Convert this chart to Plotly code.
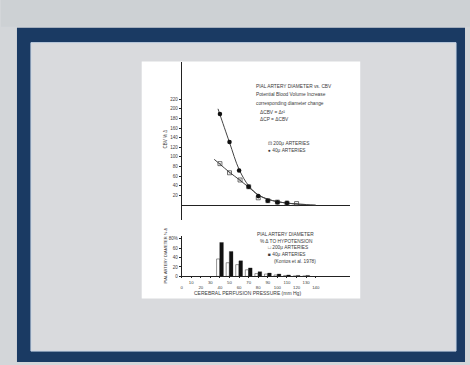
import plotly.graph_objects as go

W, H = 470, 365
def fx(px): return px / W
def fy(py): return 1 - py / H

# ---- data ----
pressure_odd_ticks = [10, 30, 50, 70, 90, 110, 130]
pressure_even_ticks = [0, 20, 40, 60, 80, 100, 120, 140]
cbv_ticks = [20, 40, 60, 80, 100, 120, 140, 160, 180, 200, 220]

# upper panel: CBV % change
small_pts_x = [40, 50, 60, 70, 80, 90, 100, 110]
small_pts_y = [189, 131, 72, 38, 19, 9, 6, 4]
large_pts_x = [40, 50, 61, 70, 80, 90, 100, 110, 120]
large_pts_y = [86, 67, 52, 38, 15, 9, 6, 4, 3]
small_curve_x = [38, 40, 50, 60, 70, 80, 90, 100, 110, 120, 130, 140]
small_curve_y = [200, 188, 130, 74, 40, 21, 12, 7, 4, 2, 1, 0]
large_curve_x = [34, 40, 50, 60, 70, 80, 90, 100, 110, 120, 130]
large_curve_y = [95, 85, 68, 53, 37, 21, 12, 7, 4, 2, 1]

# lower panel: pial artery diameter % change
bar_x = [40, 50, 60, 70, 80, 90, 100, 110, 120, 130]
large_bars = [37, 29, 25, 14, 6, 5, 3, 2, 1, 1]
small_bars = [72, 53, 33, 18, 10, 7, 5, 3, 2, 2]
dia_ticks = [0, 20, 40, 60, 80]
dia_ticktext = ["0", "20", "40", "60", "80%"]

NAVY = "#1a3a63"
MARBLE = "#d9dadd"
TXT = "#3a3a3a"
FONT = "Liberation Sans"

fig = go.Figure()

# upper panel
fig.add_trace(go.Scatter(x=small_curve_x, y=small_curve_y, mode="lines",
                         line=dict(color="#444", width=1, shape="spline"),
                         xaxis="x", yaxis="y", hoverinfo="skip"))
fig.add_trace(go.Scatter(x=large_curve_x, y=large_curve_y, mode="lines",
                         line=dict(color="#444", width=1, shape="spline"),
                         xaxis="x", yaxis="y", hoverinfo="skip"))
fig.add_trace(go.Scatter(x=large_pts_x, y=large_pts_y, mode="markers",
                         marker=dict(symbol="square-open-dot", size=4, color="#333",
                                     line=dict(width=0.7, color="#333")),
                         xaxis="x", yaxis="y"))
fig.add_trace(go.Scatter(x=small_pts_x, y=small_pts_y, mode="markers",
                         marker=dict(symbol="circle", size=4.5, color="#111"),
                         xaxis="x", yaxis="y"))

# lower panel
fig.add_trace(go.Bar(x=bar_x, y=large_bars, offset=-3.5, width=3.4,
                     marker=dict(color="white", line=dict(color="#666", width=0.7)),
                     xaxis="x2", yaxis="y2"))
fig.add_trace(go.Bar(x=bar_x, y=small_bars, offset=-0.2, width=3.8,
                     marker=dict(color="#111", line=dict(color="#111", width=0.3)),
                     xaxis="x2", yaxis="y2"))
# invisible trace so the second (even-label) axis is drawn
fig.add_trace(go.Scatter(x=[0], y=[0], mode="markers", marker=dict(opacity=0),
                         xaxis="x3", yaxis="y2", hoverinfo="skip"))

xdom = [fx(181), fx(350)]
xr = [0, 169 / 0.96]

fig.update_layout(
    width=W, height=H, margin=dict(l=0, r=0, t=0, b=0),
    paper_bgcolor="#d3d6d9", plot_bgcolor="rgba(0,0,0,0)",
    showlegend=False, barmode="overlay",
    font=dict(family=FONT, size=4.5, color=TXT),
    xaxis=dict(domain=xdom, range=xr, showgrid=False, zeroline=False,
               showline=False, showticklabels=False, ticks="", anchor="y"),
    yaxis=dict(domain=[fy(222), fy(63)], range=[-31.5, 296.3], showgrid=False,
               zeroline=True, zerolinecolor="#222", zerolinewidth=1,
               showline=True, linecolor="#222", linewidth=1,
               tickvals=cbv_ticks, ticks="outside", ticklen=2, tickcolor="#222",
               tickfont=dict(size=4.5, color=TXT), anchor="x"),
    xaxis2=dict(domain=xdom, range=xr, showgrid=False, zeroline=False,
                showline=True, linecolor="#222", linewidth=1,
                tickvals=pressure_odd_ticks, tickangle=0,
                ticks="outside", ticklen=1, tickcolor="#222",
                tickfont=dict(size=4.3, color=TXT), anchor="y2"),
    xaxis3=dict(domain=xdom, range=xr, showgrid=False, zeroline=False,
                showline=False, overlaying="x2", anchor="y2", side="bottom",
                tickvals=pressure_even_ticks, tickangle=0,
                ticks="outside", ticklen=1, tickcolor="#222",
                ticklabelstandoff=5,
                tickfont=dict(size=4.3, color=TXT)),
    yaxis2=dict(domain=[fy(278.7), fy(237.5)], range=[0, 86.7], showgrid=False,
                zeroline=False, showline=True, linecolor="#222", linewidth=1,
                tickvals=dia_ticks, ticktext=dia_ticktext,
                ticks="outside", ticklen=2, tickcolor="#222",
                tickfont=dict(size=4.5, color=TXT), anchor="x2"),
)

# slide background: frame, marble area, white picture
shapes = [
    dict(type="rect", xref="paper", yref="paper", x0=0, x1=1, y0=fy(27), y1=1,
         fillcolor="#cdd1d4", line=dict(width=0), layer="below"),
    dict(type="rect", xref="paper", yref="paper", x0=fx(16), x1=fx(465), y0=0, y1=fy(28),
         fillcolor=NAVY, line=dict(width=0), layer="below"),
    dict(type="rect", xref="paper", yref="paper", x0=fx(30), x1=fx(456), y0=fy(354), y1=fy(43),
         fillcolor=MARBLE, line=dict(color="#c8d4e6", width=1), layer="below"),
    dict(type="rect", xref="paper", yref="paper", x0=fx(141), x1=fx(360), y0=fy(301), y1=fy(62),
         fillcolor="white", line=dict(width=0), layer="below"),
]
fig.update_layout(shapes=shapes)

def note(text, px, py, size=4.8, anchor="left", angle=0):
    fig.add_annotation(text=text, x=fx(px), y=fy(py), xref="paper", yref="paper",
                       showarrow=False, xanchor=anchor, yanchor="middle",
                       textangle=angle, font=dict(size=size, color=TXT, family=FONT))

# upper panel text
note("PIAL ARTERY DIAMETER vs. CBV", 254, 87)
note("Potential Blood Volume Increase", 254, 95)
note("corresponding diameter change", 254, 104)
note("ΔCBV = Δr²", 258, 113)
note("ΔCP = ΔCBV", 258, 120)
note("⊡ 200μ ARTERIES", 266, 145)
note("● 40μ ARTERIES", 266, 151.5)
note("CBV % Δ", 165, 140, size=4.5, anchor="center", angle=-90)

# lower panel text
note("PIAL ARTERY DIAMETER", 255, 236)
note("% Δ TO HYPOTENSION", 258, 243)
note("□ 200μ ARTERIES", 266, 250)
note("■ 40μ ARTERIES", 266, 257)
note("(Kontos et al. 1978)", 272, 264)
note("PIAL ARTERY DIAMETER % Δ", 165, 258, size=4, anchor="center", angle=-90)
note("CEREBRAL PERFUSION PRESSURE (mm Hg)", 247, 295, size=5, anchor="center")

fig.write_html("out.html", config={"displayModeBar": False},
               post_script="document.body.style.margin='0';document.body.style.padding='0';")
